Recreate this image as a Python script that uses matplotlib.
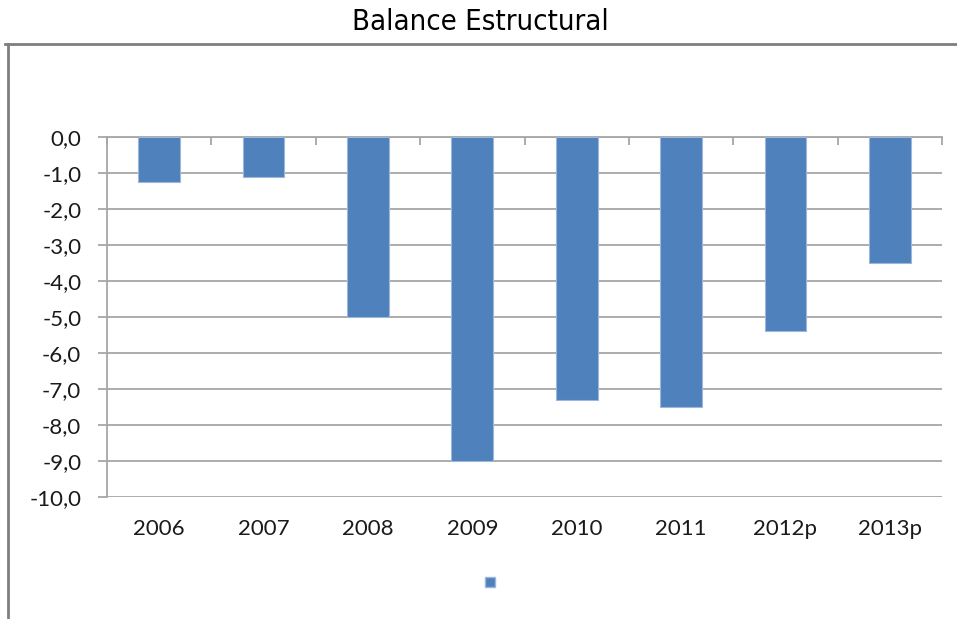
import matplotlib.pyplot as plt
from matplotlib.lines import Line2D
from matplotlib.patches import Patch
from matplotlib.ticker import FuncFormatter

years = ['2006', '2007', '2008', '2009', '2010', '2011', '2012p', '2013p']
balance = [-1.25, -1.1, -5.0, -9.0, -7.3, -7.5, -5.4, -3.5]
yticks = list(range(-10, 1))

bar_color = '#4f81bd'
grid_color = '#a6a6a6'
label_font = ['Lato', 'DejaVu Sans']

fig = plt.figure(figsize=(9.57, 6.19), dpi=100)
ax = fig.add_axes([107 / 957, 1 - 497 / 619, (942 - 107) / 957, (497 - 137) / 619])

x = list(range(len(years)))
ax.bar(x, balance, width=0.4, color=bar_color, edgecolor='#9cb7da', linewidth=0.8, zorder=3)

ax.set_xlim(-0.5, len(years) - 0.5)
ax.set_ylim(-10, 0)
ax.set_yticks(yticks)
ax.yaxis.set_major_formatter(FuncFormatter(lambda v, p: f'{v:.1f}'.replace('.', ',')))
ax.set_xticks(x)
ax.set_xticklabels(years)
ax.set_xticks([i - 0.5 for i in range(len(years) + 1)], minor=True)

ax.grid(axis='y', color=grid_color, linewidth=1.3, zorder=0)
ax.tick_params(axis='y', length=6.5, width=1.3, color=grid_color, pad=12, labelsize=16)
ax.tick_params(axis='x', which='major', length=0, pad=16, labelsize=16)
ax.tick_params(axis='x', which='minor', top=True, bottom=False, direction='in',
               length=6, width=1.3, color=grid_color)
for lab in ax.get_xticklabels() + ax.get_yticklabels():
    lab.set_family(label_font)
    lab.set_color('#1a1a1a')

for side in ['right', 'bottom']:
    ax.spines[side].set_visible(False)
ax.spines['top'].set_color(grid_color)
ax.spines['top'].set_linewidth(1.3)
ax.spines['left'].set_color(grid_color)
ax.spines['left'].set_linewidth(1.3)

fig.text(480 / 957, 1 - 22 / 619, 'Balance Estructural', ha='center', va='center',
         fontsize=21, family='DejaVu Sans', fontstretch='condensed')

# outer chart frame (only top and left edges visible)
fig.add_artist(Line2D([5 / 957, 1], [1 - 44 / 619] * 2, transform=fig.transFigure,
                      color='#7f7f7f', linewidth=2))
fig.add_artist(Line2D([8 / 957] * 2, [0, 1 - 44 / 619], transform=fig.transFigure,
                      color='#7f7f7f', linewidth=2))

fig.legend(handles=[Patch(facecolor=bar_color, edgecolor='#9cb7da')], labels=[''],
           loc='center', bbox_to_anchor=(490 / 957, 1 - 583 / 619), frameon=False,
           handlelength=0.75, handleheight=0.75, handletextpad=0)

fig.savefig('out.png', dpi=100)
